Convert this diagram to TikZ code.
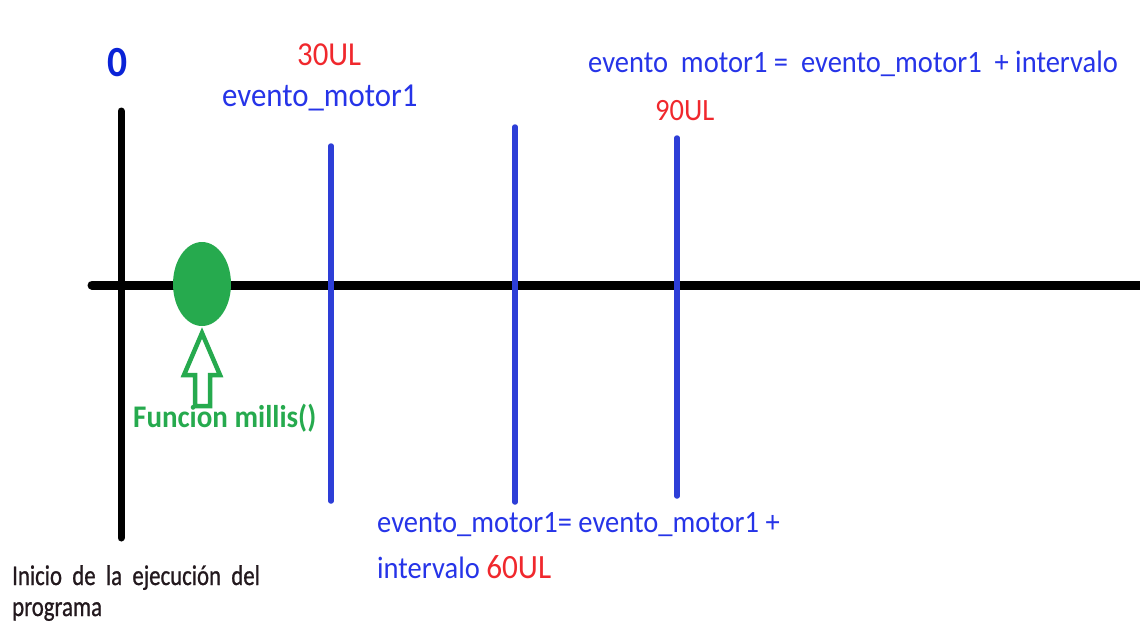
\documentclass[tikz,border=0pt]{standalone}
\usepackage{fontspec}
\setmainfont{Carlito}[FakeStretch=0.92]
\newfontfamily\notefont{Carlito}[FakeStretch=0.8, FakeBold=0.8]
\usetikzlibrary{calc,shapes.geometric}
\definecolor{lineblue}{RGB}{45,62,215}
\definecolor{textblue}{RGB}{38,52,232}
\definecolor{zeroblue}{RGB}{10,35,215}
\definecolor{textred}{RGB}{240,40,45}
\definecolor{markgreen}{RGB}{38,170,78}
\definecolor{darktext}{RGB}{35,25,30}
\newcommand\txtsize[1]{\fontsize{#1}{#1}\selectfont}
\tikzset{
  axisline/.style={line width=9pt, line cap=round, black},
  startline/.style={line width=7pt, line cap=round, black},
  eventline/.style={line width=5.5pt, line cap=round, lineblue},
  lbl/.style={inner sep=0pt, anchor=base west},
  bluetxt/.style={lbl, text=textblue, font=\txtsize{31}},
  redtxt/.style={lbl, text=textred, font=\txtsize{32}},
}
\begin{document}
\begin{tikzpicture}[x=1pt, y=-1pt]
\useasboundingbox (0,0) rectangle (1140,626);

% time axis
\coordinate (axL) at (92,285);
\coordinate (axR) at (1145,285);
\draw[axisline] (axL) -- (axR);

% program start marker
\coordinate (s0) at (121,111);
\coordinate (s1) at (121,538);
\draw[startline] (s0) -- (s1);

% event markers
\coordinate (e1t) at (331,146);
\coordinate (e1b) at (331,501);
\coordinate (e2t) at (515,127);
\coordinate (e2b) at (515,502);
\coordinate (e3t) at (677,138);
\coordinate (e3b) at (677,496);
\draw[eventline] (e1t) -- (e1b);
\draw[eventline] (e2t) -- (e2b);
\draw[eventline] (e3t) -- (e3b);

% millis() position
\node[ellipse, fill=markgreen, draw=none, minimum width=58pt, minimum height=84pt, inner sep=0pt] (dot) at (202,284) {};
\draw[markgreen, line width=4.5pt, fill=white, line join=miter]
  (202,333) -- (220,375) -- (210,375) -- (210,406) -- (195,406) -- (195,375) -- (184,375) -- cycle;
\node[lbl, text=markgreen, font=\txtsize{31.5}\bfseries] (millis) at (133,427) {Funcion millis()};

% labels
\node[lbl, anchor=base, text=zeroblue, font=\txtsize{43}\bfseries] (zero) at (118,76) {0};
\node[redtxt, font=\txtsize{33.5}] (t30) at (297,66) {30UL};
\node[bluetxt, font=\txtsize{33.5}] (ev1) at (222,106) {evento\_motor1};

\node[bluetxt] (ev3) at (588,73) {evento\ \ motor1 = \ evento\_motor1 \ + intervalo};
\node[redtxt, font=\txtsize{31}] (t90) at (655,120) {90UL};

\node[bluetxt] (ev2a) at (377,532) {evento\_motor1= evento\_motor1 +};
\node[bluetxt] (ev2b) at (377,578) {intervalo \textcolor{textred}{\txtsize{34}60UL}};

\node[lbl, text=darktext, font=\notefont\txtsize{28.5}] (start1) at (12,585) {Inicio \ de \ la \ ejecución \ del};
\node[lbl, text=darktext, font=\notefont\txtsize{28.5}] (start2) at (12,616) {programa};
\end{tikzpicture}
\end{document}
